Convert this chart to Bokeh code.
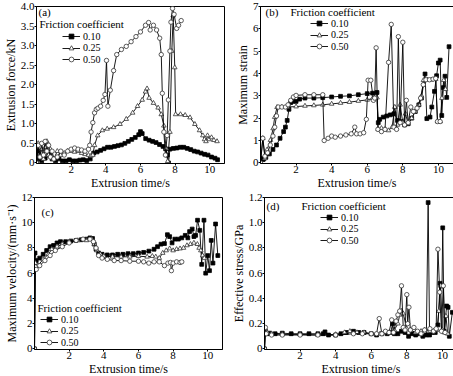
from bokeh.plotting import figure
from bokeh.layouts import row, column
from bokeh.models import Legend, LegendItem, Label, FixedTicker, Range1d
from bokeh.embed import file_html
from bokeh.resources import INLINE

FONT = "Liberation Serif"
series_names = ["0.10", "0.25", "0.50"]
x_ticks = [2, 4, 6, 8, 10]

# ---------------- (a) Extrusion force / kN ----------------
a_t10 = [0, 0.05, 0.15, 0.3, 0.5, 0.7, 0.9, 1.1, 1.3, 1.5, 1.7, 1.9, 2.1, 2.3, 2.5, 2.7, 2.9, 3.1, 3.3, 3.5,
         3.7, 3.9, 4.1, 4.3, 4.5, 4.7, 4.9, 5.1, 5.3, 5.5, 5.7, 5.9, 6.0, 6.1, 6.3, 6.5, 6.7, 6.9, 7.1, 7.3,
         7.45, 7.55, 7.62, 7.7, 7.9, 8.1, 8.3, 8.5, 8.7, 8.9, 9.1, 9.3, 9.5, 9.7, 9.9, 10.1, 10.3, 10.45]
a_y10 = [0, 0.3, 0.1, 0.05, 0.12, 0.2, 0.1, 0.05, 0.1, 0.05, 0.05, 0.08, 0.05, 0.05, 0.07, 0.08, 0.06, 0.1, 0.25, 0.28,
         0.32, 0.36, 0.4, 0.4, 0.42, 0.44, 0.46, 0.5, 0.55, 0.6, 0.65, 0.72, 0.8, 0.75, 0.62, 0.58, 0.55, 0.52, 0.47, 0.42,
         0.36, 0.2, 0.0, 0.35, 0.37, 0.38, 0.4, 0.4, 0.37, 0.34, 0.3, 0.28, 0.25, 0.22, 0.2, 0.15, 0.12, 0.08]
a_t25 = [0, 0.1, 0.2, 0.3, 0.4, 0.5, 0.6, 0.7, 0.8, 0.9, 1.0, 1.2, 1.4, 1.6, 1.8, 2.0, 2.2, 2.4, 2.6, 2.8,
         3.0, 3.15, 3.25, 3.35, 3.53, 3.8, 4.08, 4.45, 4.82, 5.18, 5.55, 5.83, 6.1, 6.29, 6.38, 6.5, 6.75, 7.02, 7.2, 7.35,
         7.48, 7.57, 7.7, 7.81, 7.89, 7.98, 8.03, 8.31, 8.58, 8.86, 9.14, 9.41, 9.6, 9.7, 9.78, 9.87, 9.96, 10.1, 10.24, 10.42]
a_y25 = [0, 0.5, 0.2, 0.35, 0.1, 0.4, 0.55, 0.2, 0.35, 0.15, 0.1, 0.3, 0.2, 0.25, 0.3, 0.3, 0.28, 0.3, 0.25, 0.22,
         0.2, 0.18, 0.2, 0.45, 0.7, 0.83, 0.87, 0.91, 0.99, 1.12, 1.28, 1.45, 1.61, 1.82, 1.9, 1.66, 1.53, 1.41, 1.24, 0.95,
         0.37, 0.04, 0.79, 2.86, 3.77, 2.44, 1.24, 1.24, 1.22, 1.16, 0.99, 0.83, 0.7, 0.6, 0.55, 0.7, 0.6, 0.65, 0.58, 0.55]
a_t50 = [0, 0.1, 0.2, 0.3, 0.4, 0.5, 0.6, 0.7, 0.8, 0.9, 1.0, 1.2, 1.4, 1.6, 1.8, 2.0, 2.2, 2.4, 2.6, 2.8,
         3.0, 3.07, 3.15, 3.25, 3.35, 3.45, 3.55, 3.7, 3.85, 3.95, 4.04, 4.12, 4.26, 4.45, 4.63, 4.9, 5.18, 5.46, 5.74, 6.0,
         6.29, 6.47, 6.56, 6.75, 6.93, 7.11, 7.2, 7.26, 7.35, 7.44, 7.54, 7.61, 7.7, 7.76, 7.85, 7.94, 8.09, 8.2, 8.35]
a_y50 = [0, 0.45, 0.15, 0.5, 0.2, 0.55, 0.3, 0.45, 0.15, 0.3, 0.1, 0.15, 0.3, 0.2, 0.3, 0.35, 0.38, 0.35, 0.33, 0.3,
         0.35, 0.45, 0.79, 1.03, 1.28, 1.37, 1.4, 1.45, 1.6, 1.75, 2.62, 1.45, 1.86, 2.36, 2.77, 2.9, 2.98, 3.1, 3.23, 3.35,
         3.52, 3.59, 3.4, 3.52, 3.4, 3.19, 2.77, 1.78, 0.79, 0.2, 0.7, 1.61, 2.86, 3.6, 3.95, 3.8, 3.44, 3.52, 3.64]

# ---------------- (b) Maximum strain ----------------
b_t10 = [0, 0.1, 0.15, 0.2, 0.3, 0.5, 0.7, 0.9, 1.1, 1.3, 1.4, 1.5, 1.6, 1.7, 1.8, 2.0, 2.2, 2.5, 3.0, 3.5,
         4.0, 4.5, 5.0, 5.5, 6.0, 6.3, 6.55, 6.62, 6.7, 6.9, 7.1, 7.3, 7.5, 7.7, 7.9, 8.1, 8.3, 8.5, 8.7, 8.9,
         9.05, 9.25, 9.35, 9.53, 9.63, 9.78, 9.9, 10.0, 10.1, 10.19, 10.28, 10.37, 10.47, 10.6]
b_y10 = [0, 0.2, 0.15, 0.2, 0.25, 0.4, 0.6, 0.8, 1.1, 1.4, 1.6, 1.9, 2.4, 2.7, 2.75, 2.75, 2.85, 2.9, 2.9, 2.92,
         2.95, 2.98, 3.0, 3.05, 3.1, 3.12, 3.15, 1.8, 1.95, 2.05, 2.1, 2.15, 2.2, 1.9, 1.85, 1.7, 1.75, 2.0, 2.3, 2.6,
         2.9, 3.98, 1.98, 2.05, 2.5, 3.2, 3.9, 4.47, 4.6, 2.12, 3.37, 3.88, 2.93, 5.2]
b_t25 = [0, 0.13, 0.25, 0.37, 0.56, 0.71, 0.8, 0.93, 1.2, 1.5, 2.0, 2.5, 3.0, 3.5, 4.0, 4.5, 5.0, 5.5, 6.0, 6.3,
         6.55, 6.62, 6.8, 7.0, 7.2, 7.4, 7.55, 7.7, 7.85, 8.0, 8.15, 8.3, 8.5, 8.7, 8.9, 9.05, 9.16, 9.4, 9.6, 9.85,
         9.95, 10.1, 10.2, 10.3, 10.4]
b_y25 = [0, 1.1, 0.2, 0.59, 1.02, 1.54, 2.05, 2.49, 2.5, 2.5, 2.52, 2.55, 2.57, 2.6, 2.64, 2.68, 2.72, 2.77, 2.82, 2.88,
         2.92, 1.5, 1.55, 1.5, 1.45, 1.6, 2.5, 1.7, 2.6, 1.8, 2.2, 1.75, 2.0, 2.3, 2.6, 3.0, 3.7, 3.72, 3.72, 3.75,
         1.85, 1.85, 2.9, 3.7, 3.3]
b_t50 = [0, 0.13, 0.25, 0.4, 0.55, 0.7, 0.8, 0.9, 1.0, 1.2, 1.4, 1.55, 1.7, 1.85, 2.0, 2.5, 3.0, 3.5, 3.58, 3.8,
         4.0, 4.2, 4.5, 4.8, 5.1, 5.3, 5.4, 5.6, 5.8, 5.95, 6.05, 6.2, 6.35, 6.42, 6.5, 6.6, 6.8, 7.0, 7.2, 7.35,
         7.5, 7.65, 7.75, 7.85, 8.0, 8.1, 8.2, 8.3, 8.45, 8.6, 8.8, 9.0, 9.15, 9.3, 9.5, 9.7, 9.85, 9.95, 10.1]
b_y50 = [0, 1.1, 0.3, 0.45, 0.8, 1.2, 1.6, 2.1, 2.5, 2.5, 2.5, 2.6, 2.8, 2.95, 3.02, 3.05, 3.05, 3.05, 1.0, 1.1,
         1.2, 1.15, 1.2, 1.25, 1.3, 1.6, 1.3, 1.3, 1.35, 1.95, 3.7, 3.7, 2.8, 2.9, 5.15, 1.5, 1.4, 1.5, 4.5, 6.2,
         1.6, 1.5, 5.65, 1.8, 5.4, 1.7, 2.8, 1.8, 2.5, 2.3, 2.45, 2.9, 3.5, 3.72, 3.72, 3.75, 3.78, 1.85, 1.85]

# ---------------- (c) Maximum velocity ----------------
c_t10 = [0, 0.03, 0.1, 0.3, 0.5, 0.7, 0.9, 1.1, 1.3, 1.5, 1.8, 2.1, 2.4, 2.7, 3.0, 3.2, 3.35, 3.45, 3.55, 3.7,
         3.9, 4.2, 4.5, 4.8, 5.1, 5.4, 5.7, 6.0, 6.3, 6.6, 6.9, 7.1, 7.3, 7.5, 7.67, 7.8, 7.94, 8.1, 8.3, 8.5,
         8.7, 8.85, 8.95, 9.1, 9.2, 9.3, 9.41, 9.54, 9.65, 9.78, 9.88, 10.0, 10.1, 10.2, 10.3, 10.45, 10.58]
c_y10 = [0, 7.6, 7.0, 7.2, 7.5, 7.8, 8.1, 8.2, 8.4, 8.5, 8.5, 8.55, 8.6, 8.65, 8.7, 8.8, 8.75, 8.3, 7.9, 7.6,
         7.5, 7.45, 7.45, 7.5, 7.5, 7.55, 7.55, 7.6, 7.65, 7.75, 7.9, 8.1, 8.3, 8.35, 9.05, 8.9, 8.4, 8.7, 8.7, 8.8,
         9.0, 8.8, 9.3, 9.5, 8.9, 9.0, 10.2, 9.4, 6.7, 10.2, 6.0, 7.4, 6.2, 8.6, 6.8, 9.9, 7.4]
c_t25 = [0, 0.05, 0.2, 0.5, 0.8, 1.0, 1.3, 1.6, 2.0, 2.5, 3.0, 3.3, 3.45, 3.6, 3.8, 4.0, 4.5, 5.0, 5.5, 6.0,
         6.5, 6.8, 7.0, 7.2, 7.4, 7.6, 7.8, 8.0, 8.2, 8.4, 8.6, 8.8, 9.0, 9.2, 9.4, 9.5, 9.6, 9.7, 9.8]
c_y25 = [0, 6.8, 6.6, 7.1, 7.5, 7.9, 8.1, 8.3, 8.5, 8.6, 8.6, 8.7, 8.3, 7.8, 7.5, 7.35, 7.3, 7.3, 7.3, 7.35,
         7.3, 7.35, 7.3, 7.2, 7.6, 7.8, 7.95, 7.8, 7.9, 7.95, 8.0, 8.2, 8.3, 8.4, 8.3, 8.0, 7.8, 7.4, 7.2]
c_t50 = [0, 0.05, 0.1, 0.3, 0.6, 0.9, 1.2, 1.6, 2.0, 2.4, 2.8, 3.2, 3.4, 3.55, 3.7, 3.9, 4.2, 4.6, 5.0, 5.5,
         6.0, 6.3, 6.6, 6.9, 7.2, 7.5, 7.7, 7.85, 7.9, 8.0, 8.2, 8.4, 8.5]
c_y50 = [0, 6.5, 6.3, 6.6, 7.0, 7.4, 7.8, 8.1, 8.4, 8.6, 8.7, 8.7, 8.5, 8.0, 7.4, 7.2, 7.1, 7.0, 7.0, 6.95,
         6.95, 6.9, 6.8, 6.9, 6.9, 6.6, 6.8, 6.85, 6.2, 6.8, 6.9, 6.85, 6.9]

# ---------------- (d) Effective stress / GPa ----------------
d_t10 = [0, 0.05, 0.15, 0.3, 0.6, 1.0, 1.5, 2.0, 2.5, 3.0, 3.3, 3.4, 3.6, 4.0, 4.3, 4.6, 5.0, 5.3, 5.6, 6.0,
         6.3, 6.6, 6.9, 7.1, 7.2, 7.3, 7.5, 7.7, 7.9, 8.1, 8.3, 8.5, 8.7, 8.9, 9.1, 9.2, 9.28, 9.4, 9.6, 9.75,
         9.87, 9.94, 9.98, 10.02, 10.1, 10.24, 10.32, 10.39, 10.56]
d_y10 = [0, 0.14, 0.12, 0.125, 0.12, 0.125, 0.12, 0.12, 0.12, 0.12, 0.12, 0.135, 0.11, 0.11, 0.12, 0.13, 0.14, 0.13, 0.13, 0.12,
         0.11, 0.12, 0.12, 0.13, 0.2, 0.12, 0.12, 0.14, 0.13, 0.1, 0.12, 0.11, 0.12, 0.1, 0.11, 1.16, 0.11, 0.13, 0.13, 0.19,
         0.52, 0.5, 0.5, 0.96, 0.14, 0.34, 0.33, 0.1, 0.29]
d_t25 = [0, 0.05, 0.15, 0.4, 1.0, 2.0, 3.0, 4.0, 4.5, 4.8, 5.2, 5.6, 6.0, 6.5, 7.0, 7.3, 7.5, 7.6, 7.7, 7.8,
         8.0, 8.2, 8.5, 8.8, 9.0, 9.3, 9.5, 9.7, 9.8, 9.9, 10.0, 10.1, 10.2, 10.3]
d_y25 = [0, 0.15, 0.13, 0.12, 0.115, 0.115, 0.11, 0.115, 0.13, 0.14, 0.13, 0.13, 0.12, 0.12, 0.13, 0.15, 0.2, 0.27, 0.3, 0.28,
         0.16, 0.15, 0.13, 0.14, 0.15, 0.14, 0.14, 0.15, 0.3, 0.5, 0.15, 0.13, 0.26, 0.12]
d_t50 = [0, 0.05, 0.1, 0.4, 1.0, 2.0, 3.0, 4.0, 5.0, 5.5, 6.0, 6.3, 6.45, 6.6, 6.8, 7.0, 7.15, 7.25, 7.4, 7.5,
         7.6, 7.7, 7.8, 7.9, 8.0, 8.05, 8.12, 8.2, 8.4, 8.6, 8.8, 9.0, 9.3, 9.5, 9.65, 9.75, 9.85, 9.95, 10.05, 10.15]
d_y50 = [0, 0.17, 0.12, 0.11, 0.11, 0.11, 0.11, 0.11, 0.12, 0.12, 0.12, 0.12, 0.24, 0.12, 0.14, 0.13, 0.23, 0.13, 0.22, 0.27,
         0.3, 0.5, 0.17, 0.15, 0.43, 0.2, 0.33, 0.15, 0.17, 0.14, 0.12, 0.15, 0.16, 0.14, 0.16, 0.79, 0.45, 0.14, 0.5, 0.13]

# y-axis ticks and labels
a_ticks = [0, 0.5, 1.0, 1.5, 2.0, 2.5, 3.0, 3.5, 4.0]
a_labels = ["0", "0.5", "1.0", "1.5", "2.0", "2.5", "3.0", "3.5", "4.0"]
b_ticks = [0, 1, 2, 3, 4, 5, 6, 7]
b_labels = ["0", "1", "2", "3", "4", "5", "6", "7"]
c_ticks = [0, 2, 4, 6, 8, 10, 12]
c_labels = ["0", "2", "4", "6", "8", "10", "12"]
d_ticks = [0, 0.2, 0.4, 0.6, 0.8, 1.0, 1.2]
d_labels = ["0", "0.2", "0.4", "0.6", "0.8", "1.0", "1.2"]

STYLES = [
    dict(marker="square", size=3.8, fill_color="black", line_color="black"),
    dict(marker="triangle", size=4.6, fill_color="white", line_color="#333333"),
    dict(marker="circle", size=4.4, fill_color="white", line_color="#333333"),
]

ROW_H = 12


def make_panel(series, ylabel, yticks, ylabels, ymax, tag, frame_w, frame_h, mb, tag_xy, title_xy, leg_x, row_tops):
    p = figure(frame_width=frame_w, frame_height=frame_h, output_backend="svg", toolbar_location=None,
               x_range=Range1d(0, 10.85), y_range=Range1d(-ymax * 0.004, ymax),
               min_border_left=mb[0], min_border_right=mb[1], min_border_top=mb[2], min_border_bottom=mb[3])
    p.grid.visible = False
    p.outline_line_color = "black"
    p.outline_line_width = 1
    p.background_fill_color = "white"
    p.border_fill_color = "white"
    for ax in (p.xaxis[0], p.yaxis[0]):
        ax.axis_line_color = "black"
        ax.major_tick_line_color = "black"
        ax.major_tick_out = 2
        ax.major_tick_in = 0
        ax.minor_tick_line_color = None
        ax.major_label_text_font = FONT
        ax.major_label_text_font_size = "11px"
        ax.major_label_text_color = "black"
        ax.major_label_standoff = 0
        ax.axis_label_text_font = FONT
        ax.axis_label_text_font_size = "12px"
        ax.axis_label_text_font_style = "normal"
        ax.axis_label_text_color = "black"
        ax.axis_label_standoff = 0
    p.xaxis.ticker = FixedTicker(ticks=x_ticks)
    p.xaxis.axis_label = "Extrusion time/s"
    p.yaxis.ticker = FixedTicker(ticks=yticks)
    p.yaxis.major_label_overrides = {t: l for t, l in zip(yticks, ylabels)}
    p.yaxis.axis_label = ylabel

    for (tx, ty), name, st, top in zip(series, series_names, STYLES, row_tops):
        ln = p.line(tx, ty, line_color="black", line_width=0.9)
        sc = p.scatter(tx, ty, marker=st["marker"], size=st["size"], fill_color=st["fill_color"],
                       line_color=st["line_color"], line_width=0.8)
        leg = Legend(items=[LegendItem(label=name, renderers=[ln, sc])],
                     location=(leg_x, frame_h - top - ROW_H), orientation="vertical",
                     label_text_font=FONT, label_text_font_size="10px", label_text_color="black",
                     glyph_width=18, glyph_height=ROW_H, label_height=ROW_H, label_standoff=3,
                     spacing=0, padding=0, margin=0, label_text_line_height=0.9,
                     border_line_alpha=0, background_fill_alpha=0)
        p.add_layout(leg)
    p.add_layout(Label(x=title_xy[0], y=title_xy[1], x_units="screen", y_units="screen",
                       text="Friction coefficient", text_font=FONT, text_font_size="11px",
                       text_color="black", text_baseline="middle"))
    p.add_layout(Label(x=tag_xy[0], y=tag_xy[1], x_units="screen", y_units="screen",
                       text=tag, text_font=FONT, text_font_size="11px",
                       text_color="black", text_baseline="middle"))
    return p


LW, RW = 188, 193
TH, BH = 157, 152

pa = make_panel([(a_t10, a_y10), (a_t25, a_y25), (a_t50, a_y50)], "Extrusion force/kN",
                a_ticks, a_labels, 4.0, "(a)", LW, TH, (34, 6, 6, 28),
                tag_xy=(2, TH - 5), title_xy=(3, TH - 17.5), leg_x=26, row_tops=[24, 35.5, 47])
pb = make_panel([(b_t10, b_y10), (b_t25, b_y25), (b_t50, b_y50)], "Maximum strain",
                b_ticks, b_labels, 7, "(b)", RW, TH, (30, 2, 6, 28),
                tag_xy=(5, TH - 5), title_xy=(30, TH - 5), leg_x=50, row_tops=[11, 22.5, 34])
pc = make_panel([(c_t10, c_y10), (c_t25, c_y25), (c_t50, c_y50)], "Maximum velocity/(mm\u00b7s\u207b\u00b9)",
                c_ticks, c_labels, 12, "(c)", LW, BH, (34, 6, 5, 28),
                tag_xy=(7, BH - 14), title_xy=(3, 42), leg_x=6, row_tops=[116, 127.5, 139])
pd = make_panel([(d_t10, d_y10), (d_t25, d_y25), (d_t50, d_y50)], "Effective stress/GPa",
                d_ticks, d_labels, 1.2, "(d)", RW, BH, (30, 2, 5, 28),
                tag_xy=(2, BH - 8), title_xy=(37, BH - 8), leg_x=56, row_tops=[14, 25.5, 37])

layout = column(row(pa, pb), row(pc, pd))
open("out.html", "w").write(file_html(layout, INLINE))
